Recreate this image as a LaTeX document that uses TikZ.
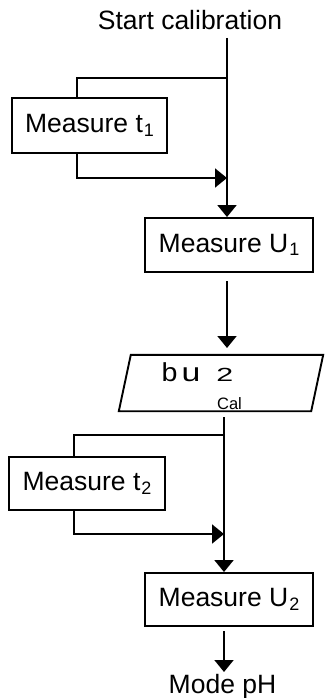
\documentclass[tikz,border=0pt]{standalone}
\usepackage{fontspec}
\setmainfont{Liberation Sans}
\usetikzlibrary{arrows.meta}
\newcommand\subs[1]{\hspace{1pt}\raisebox{-3.5pt}{\fontsize{18}{18}\selectfont #1}}
\begin{document}
\begin{tikzpicture}[x=1pt,y=-1pt,
  box/.style={draw,line width=1.9pt,inner sep=0pt,font=\fontsize{26.5}{30}\selectfont},
  lbl/.style={inner sep=0pt,font=\fontsize{26.5}{30}\selectfont},
  ln/.style={line width=1.9pt},
  arr/.style={line width=1.9pt,-{Triangle[length=12pt,width=19pt]}}]
\useasboundingbox (0,0) rectangle (325,698);
% nodes
\node[lbl,anchor=base] (start) at (190,30) {Start calibration};
\node[box,minimum width=155pt,minimum height=55pt] (t1) at (89.5,125.5) {Measure t\subs{1}};
\node[box,minimum width=168pt,minimum height=54pt] (u1) at (229,245) {Measure U\subs{1}};
\node[inner sep=0pt,minimum width=192pt,minimum height=56pt] (disp) at (221,383) {};
\draw[ln,line join=miter] ([xshift=-6pt]disp.south west) -- ([xshift=6pt]disp.north west)
  -- ([xshift=6pt]disp.north east) -- ([xshift=-6pt]disp.south east) -- cycle;
\node[inner sep=0pt,anchor=base,font=\fontsize{26}{26}\selectfont] (bu) at (197.5,381)
  {\scalebox{1.1}[1]{b}\hspace{4pt}\scalebox{1.3}[1]{u}\hspace{16pt}\scalebox{1.6}[1]{\fontsize{19}{19}\selectfont 2}};
\node[inner sep=0pt,anchor=base,font=\fontsize{16.5}{16.5}\selectfont] (cal) at (229.5,409.5) {Cal};
\node[box,minimum width=156pt,minimum height=53pt] (t2) at (87,483.5) {Measure t\subs{2}};
\node[box,minimum width=168pt,minimum height=53pt] (u2) at (229,599.5) {Measure U\subs{2}};
\node[lbl,anchor=base] (mode) at (222.5,693) {Mode pH};
% coordinates
\coordinate (s1) at (227,38);
\coordinate (j1) at (227,78);
\coordinate (l1) at (77,78);
\coordinate (m1) at (227,178);
\coordinate (a1) at (227,281);
\coordinate (a2) at (227,348);
\coordinate (s2) at (224,417);
\coordinate (j2) at (224,435);
\coordinate (l2) at (74,435);
\coordinate (m2) at (224,534);
\coordinate (a3) at (224,631);
\coordinate (a4) at (224,672);
% connectors
\draw[arr] (s1) -- (u1.north -| s1);
\draw[ln] (j1) -- (l1) -- (l1 |- t1.north);
\draw[arr] (l1 |- t1.south) -- (l1 |- m1) -- (m1);
\draw[arr] (a1) -- (a2);
\draw[arr] (s2) -- (u2.north -| s2);
\draw[ln] (j2) -- (l2) -- (l2 |- t2.north);
\draw[arr] (l2 |- t2.south) -- (l2 |- m2) -- (m2);
\draw[arr] (a3) -- (a4);
\end{tikzpicture}
\end{document}
